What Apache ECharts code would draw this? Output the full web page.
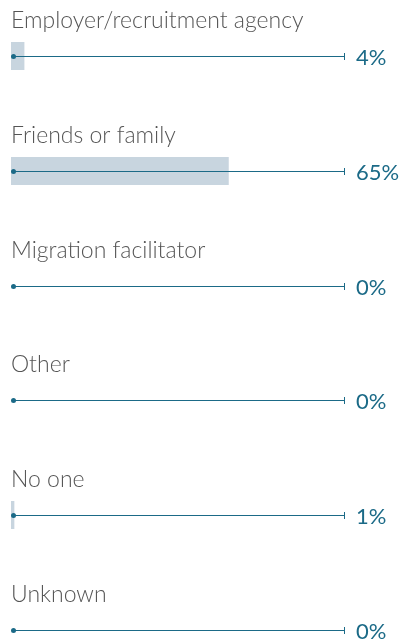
<!DOCTYPE html>
<html><head><meta charset="utf-8">
<script src="https://cdn.jsdelivr.net/npm/echarts@6/dist/echarts.min.js"></script>
<style>html,body{margin:0;padding:0;background:#fff}#c{width:403px;height:640px}</style>
</head><body><div id="c"></div>
<script>
const categories = ["Employer/recruitment agency","Friends or family","Migration facilitator","Other","No one","Unknown"];
const values = [4, 65, 0, 0, 1, 0];
const valueLabels = ["4%","65%","0%","0%","1%","0%"];

const chart = echarts.init(document.getElementById('c'), null, {renderer:'canvas'});
const teal = '#1b6a87';
chart.setOption({
  animation:false,
  grid:{left:11, right:57, top:56, bottom:10},
  xAxis:{type:'value', min:0, max:100, show:false},
  yAxis:{type:'value', min:0, max:5, inverse:true, show:false},
  series:[
    {type:'custom', data:categories.map((c,i)=>[values[i], i]), silent:true,
     renderItem:function(params, api){
       const v = api.value(0);
       const i = api.value(1);
       const p0 = api.coord([0, i]);
       const pv = api.coord([v, i]);
       const p1 = api.coord([100, i]);
       const y = Math.round(p0[1]) + 0.5;
       const children = [];
       if (v > 0) children.push({type:'rect', shape:{x:p0[0], y:y-14.5, width:Math.max(pv[0]-p0[0],3), height:28}, style:{fill:'#c8d5df'}});
       children.push(
         {type:'line', shape:{x1:p0[0]+2, y1:y, x2:p1[0]-1, y2:y}, style:{stroke:teal, lineWidth:1}},
         {type:'line', shape:{x1:p1[0]-1.5, y1:y-3.5, x2:p1[0]-1.5, y2:y+3.5}, style:{stroke:teal, lineWidth:1}},
         {type:'circle', shape:{cx:p0[0]+2.5, cy:y, r:2.5}, style:{fill:teal}},
         {type:'text', x:p0[0], y:y-24, style:{text:categories[i], fill:'#555555', font:'300 23px Lato', textAlign:'left', textVerticalAlign:'bottom'}},
         {type:'text', x:p1[0]+10, y:y+1, style:{text:valueLabels[i], fill:teal, font:'400 22px Lato', textAlign:'left', textVerticalAlign:'middle'}}
       );
       return {type:'group', children:children};
     }}
  ]
});
</script></body></html>
